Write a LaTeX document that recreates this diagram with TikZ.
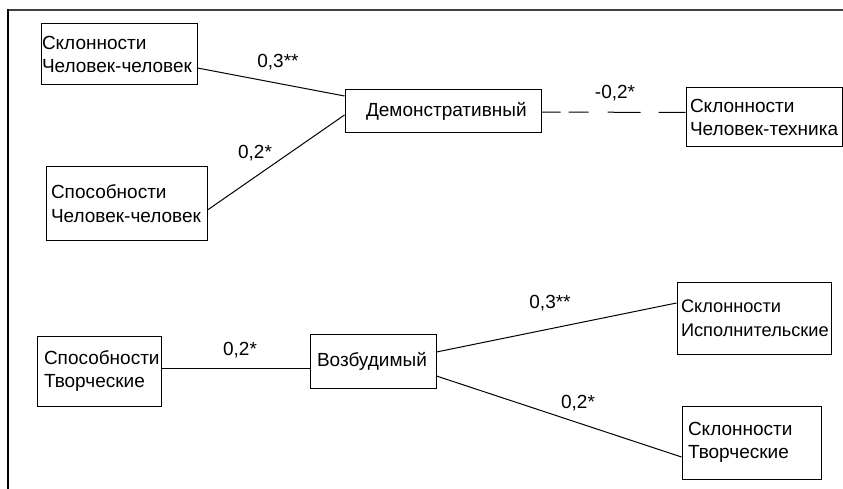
\documentclass[tikz,border=0pt]{standalone}
\usepackage{fontspec}
\setmainfont{Liberation Sans}
\exhyphenpenalty=10000
\hyphenpenalty=10000
\begin{document}
\begin{tikzpicture}[x=1pt,y=-1pt,
  box/.style n args={3}{draw=black, line width=1pt, rectangle, minimum width=#1pt, minimum height=#2pt,
     inner xsep=#3pt, inner ysep=0pt, text width={#1pt-2*#3pt}, align=left,
     font=\fontsize{19}{23.5}\selectfont},
  conn/.style={draw=black, line width=1pt},
  lbl/.style={inner sep=0pt, font=\fontsize{19}{22}\selectfont}]
\useasboundingbox (0,0) rectangle (843,489);
% frame
\draw[line width=2pt, color=black!75] (843,10) -- (8,10);
\draw[line width=2pt, color=black] (8,9) -- (8,489);
% boxes
\node[box={156}{61}{1}] (A) at (119,54.5) {Склонности\\Человек-человек};
\node[box={161}{73}{5}] (B) at (126.5,203.5) {Способности\\Человек-человек};
\node[box={196}{43}{21}] (D) at (443,111.5) {Демонстративный};
\node[box={156}{59}{4}] (T) at (764,117.5) {Склонности\\Человек-техника};
\node[box={124}{70}{7}] (C) at (99,371) {Способности\\Творческие};
\node[box={126}{54}{7}] (V) at (373,361) {Возбудимый};
\node[box={154}{72}{4}, font=\fontsize{18.2}{23.5}\selectfont] (I) at (754,318) {Склонности\\Исполнительские};
\node[box={139}{73}{6}] (TT) at (751.5,442.5) {Склонности\\Творческие};
% connectors
\draw[conn] ([yshift=-13.5pt]A.east) -- ([yshift=15.5pt]D.west);
\draw[conn] ([yshift=-6.5pt]B.east) -- ([yshift=-3.5pt]D.west);
\draw[conn, dash pattern=on 19pt off 8pt on 20pt off 19pt on 33pt off 18pt on 30pt] ([yshift=-0.5pt]D.east) -- ([yshift=5pt]T.west);
\draw[conn] ([yshift=3pt]C.east) -- ([yshift=-7pt]V.west);
\draw[conn] ([yshift=9pt]V.east) -- ([yshift=15pt]I.west);
\draw[conn] ([yshift=-15pt]V.east) -- ([yshift=-14.5pt]TT.west);
% labels
\node[lbl] (l1) at (278,62) {0,3**};
\node[lbl] (l2) at (255,153) {0,2*};
\node[lbl] (l3) at (615,93) {-0,2*};
\node[lbl] (l4) at (240,350) {0,2*};
\node[lbl] (l5) at (550,303) {0,3**};
\node[lbl] (l6) at (578,403) {0,2*};
\end{tikzpicture}
\end{document}
